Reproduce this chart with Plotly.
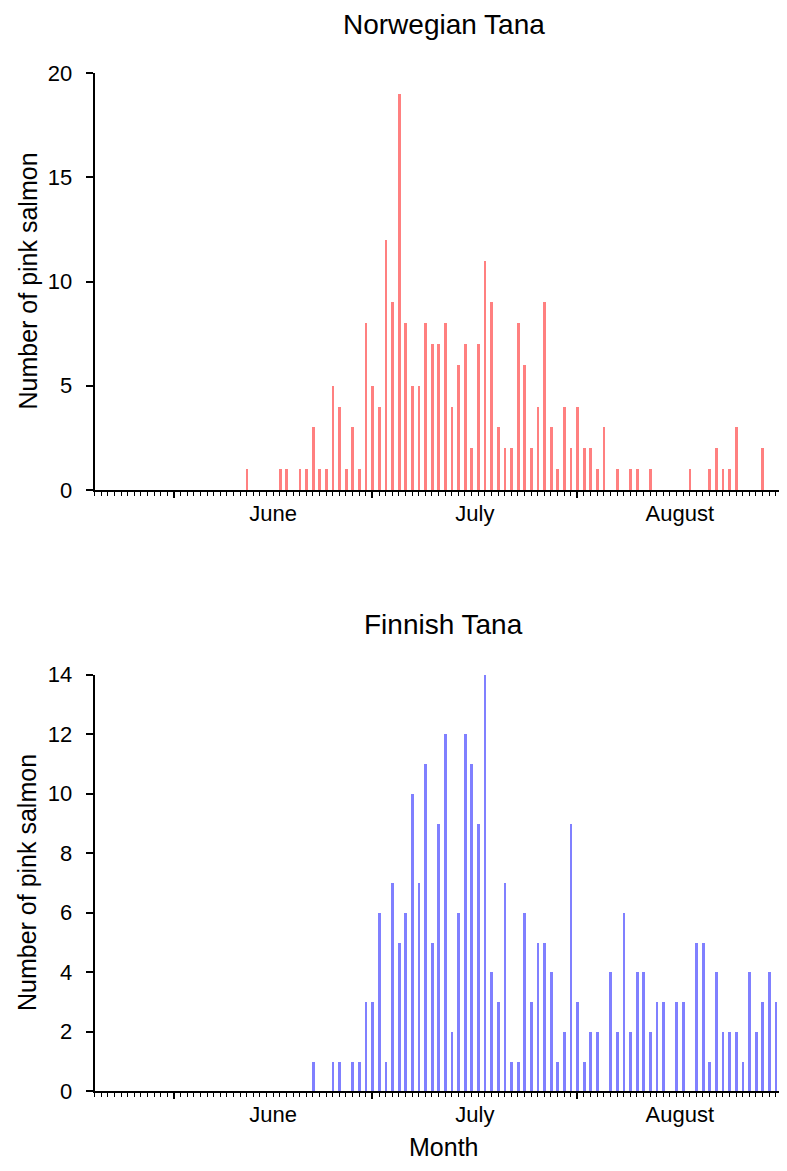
import plotly.graph_objects as go

# daily counts of pink salmon, Norwegian side
norway_dates = [
    "2019-06-12", "2019-06-17", "2019-06-18", "2019-06-20", "2019-06-21", "2019-06-22",
    "2019-06-23", "2019-06-24", "2019-06-25", "2019-06-26", "2019-06-27", "2019-06-28",
    "2019-06-29", "2019-06-30", "2019-07-01", "2019-07-02", "2019-07-03", "2019-07-04",
    "2019-07-05", "2019-07-06", "2019-07-07", "2019-07-08", "2019-07-09", "2019-07-10",
    "2019-07-11", "2019-07-12", "2019-07-13", "2019-07-14", "2019-07-15", "2019-07-16",
    "2019-07-17", "2019-07-18", "2019-07-19", "2019-07-20", "2019-07-21", "2019-07-22",
    "2019-07-23", "2019-07-24", "2019-07-25", "2019-07-26", "2019-07-27", "2019-07-28",
    "2019-07-29", "2019-07-30", "2019-07-31", "2019-08-01", "2019-08-02", "2019-08-03",
    "2019-08-04", "2019-08-05", "2019-08-07", "2019-08-09", "2019-08-10", "2019-08-12",
    "2019-08-18", "2019-08-21", "2019-08-22", "2019-08-23", "2019-08-24", "2019-08-25",
    "2019-08-29",
]
norway_counts = [
    1, 1, 1, 1, 1, 3,
    1, 1, 5, 4, 1, 3,
    1, 8, 5, 4, 12, 9,
    19, 8, 5, 5, 8, 7,
    7, 8, 4, 6, 7, 2,
    7, 11, 9, 3, 2, 2,
    8, 6, 2, 4, 9, 3,
    1, 4, 2, 4, 2, 2,
    1, 3, 1, 1, 1, 1,
    1, 1, 2, 1, 1, 3,
    2,
]

# daily counts, Finnish side
finland_dates = [
    "2019-06-22", "2019-06-25", "2019-06-26", "2019-06-28", "2019-06-29", "2019-06-30",
    "2019-07-01", "2019-07-02", "2019-07-03", "2019-07-04", "2019-07-05", "2019-07-06",
    "2019-07-07", "2019-07-08", "2019-07-09", "2019-07-10", "2019-07-11", "2019-07-12",
    "2019-07-13", "2019-07-14", "2019-07-15", "2019-07-16", "2019-07-17", "2019-07-18",
    "2019-07-19", "2019-07-20", "2019-07-21", "2019-07-22", "2019-07-23", "2019-07-24",
    "2019-07-25", "2019-07-26", "2019-07-27", "2019-07-28", "2019-07-29", "2019-07-30",
    "2019-07-31", "2019-08-01", "2019-08-02", "2019-08-03", "2019-08-04", "2019-08-06",
    "2019-08-07", "2019-08-08", "2019-08-09", "2019-08-10", "2019-08-11", "2019-08-12",
    "2019-08-13", "2019-08-14", "2019-08-16", "2019-08-17", "2019-08-19", "2019-08-20",
    "2019-08-21", "2019-08-22", "2019-08-23", "2019-08-24", "2019-08-25", "2019-08-26",
    "2019-08-27", "2019-08-28", "2019-08-29", "2019-08-30", "2019-08-31",
]
finland_counts = [
    1, 1, 1, 1, 1, 3,
    3, 6, 1, 7, 5, 6,
    10, 7, 11, 5, 9, 12,
    2, 6, 12, 11, 9, 14,
    4, 3, 7, 1, 1, 6,
    3, 5, 5, 4, 1, 2,
    9, 3, 1, 2, 2, 4,
    2, 6, 2, 4, 4, 2,
    3, 3, 3, 3, 5, 5,
    1, 4, 2, 2, 2, 1,
    4, 2, 3, 4, 3,
]

FONT = "Liberation Sans, Arial, sans-serif"
DAY_MS = 86400000
X_RANGE = ["2019-05-20", "2019-08-31 12:00"]

# page body has an 8px margin, so the figure is 16px smaller than the window
W, H = 771, 1155


def px_y(y):
    return (H - y) / H


fig = go.Figure()
fig.add_trace(go.Bar(x=norway_dates, y=norway_counts, marker=dict(color="#ff8080", line_width=0),
                     width=0.42 * DAY_MS, xaxis="x", yaxis="y"))
fig.add_trace(go.Bar(x=finland_dates, y=finland_counts, marker=dict(color="#8080ff", line_width=0),
                     width=0.42 * DAY_MS, xaxis="x2", yaxis="y2"))

x_dom = [86.7 / W, 1.0]
top_dom = [px_y(482), px_y(65)]
bot_dom = [px_y(1083), px_y(666.7)]


def xaxis_style(anchor):
    return dict(
        domain=x_dom, anchor=anchor, type="date", range=X_RANGE, automargin=False,
        dtick="M1", tick0="2019-06-01", tickformat="%B", ticklabelmode="period",
        ticks="outside", ticklen=6, tickwidth=1.5, tickcolor="black",
        showline=True, linewidth=2, linecolor="black", showgrid=False, zeroline=False,
        tickfont=dict(family=FONT, size=22, color="black"), ticklabelstandoff=-3,
        minor=dict(dtick=DAY_MS, tick0="2019-05-20", ticks="outside", ticklen=3.5,
                   tickwidth=1, tickcolor="black", showgrid=False),
    )


def yaxis_style(anchor, dom, top, step):
    return dict(
        domain=dom, anchor=anchor, range=[0, top], dtick=step, automargin=False,
        ticks="outside", ticklen=7, tickwidth=2, tickcolor="black",
        showline=True, linewidth=2, linecolor="black", showgrid=False, zeroline=False,
        tickfont=dict(family=FONT, size=22, color="black"), ticklabelstandoff=9,
    )


def inner_ticks(anchor, over, dom, top, step):
    # second axis only to draw the inward half of the crossing y ticks
    return dict(
        domain=dom, anchor=anchor, overlaying=over, range=[0, top], dtick=step,
        automargin=False, ticks="inside", ticklen=7, tickwidth=2, tickcolor="black",
        showticklabels=False, showline=False, showgrid=False, zeroline=False,
    )


fig.update_layout(
    width=W, height=H,
    margin=dict(l=0, r=0, t=0, b=0),
    plot_bgcolor="white", paper_bgcolor="white",
    showlegend=False, bargap=0,
    xaxis=xaxis_style("y"),
    yaxis=yaxis_style("x", top_dom, 20, 5),
    xaxis2=xaxis_style("y2"),
    yaxis2=yaxis_style("x2", bot_dom, 14, 2),
    yaxis3=inner_ticks("x", "y", top_dom, 20, 5),
    yaxis4=inner_ticks("x2", "y2", bot_dom, 14, 2),
)

title_font = dict(family=FONT, size=28, color="black")
label_font = dict(family=FONT, size=25, color="black")
annotations = [
    dict(text="Norwegian Tana", x=435.7 / W, y=px_y(17), font=title_font),
    dict(text="Finnish Tana", x=435.7 / W, y=px_y(617), font=title_font),
    dict(text="Number of pink salmon", x=19 / W, y=px_y(273.5), textangle=-90, font=label_font),
    dict(text="Number of pink salmon", x=19 / W, y=px_y(875), textangle=-90, font=label_font),
    dict(text="Month", x=435 / W, y=px_y(1139), font=label_font),
]
for a in annotations:
    fig.add_annotation(xref="paper", yref="paper", xanchor="center", yanchor="middle",
                       showarrow=False, **a)

fig.write_html("out.html")
